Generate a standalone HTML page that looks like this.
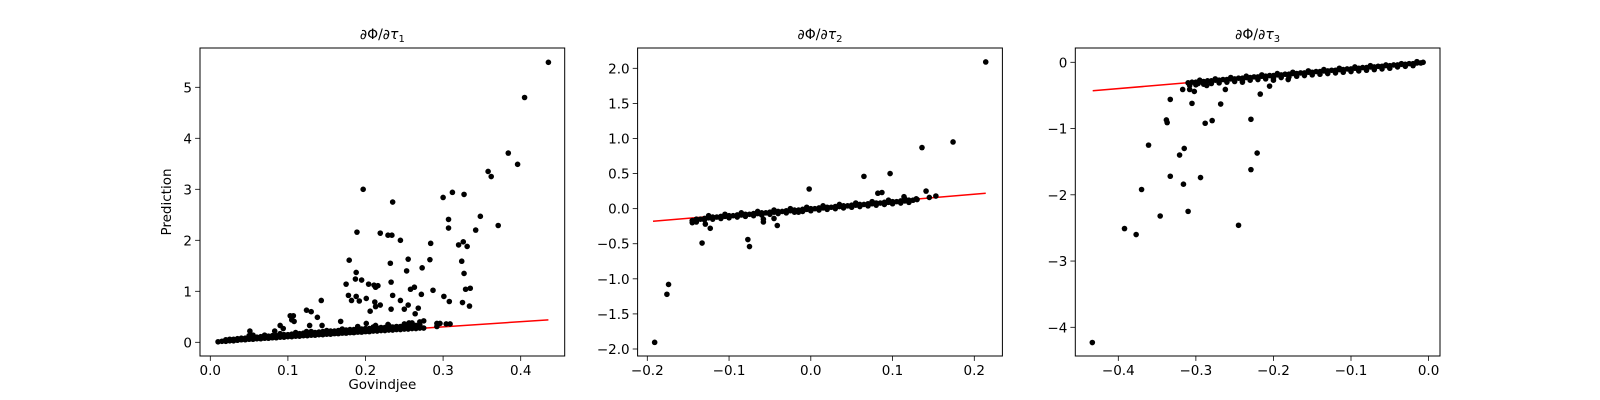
<!DOCTYPE html>
<html><head><meta charset="utf-8"><style>
html,body{margin:0;padding:0;background:#fff;}
svg{display:block;font-family:"DejaVu Sans","Liberation Sans",sans-serif;}
</style></head><body>
<svg id="fig" width="1600" height="400" viewBox="0 0 1600 400"></svg>
<script>
// ---------- Panel 1 data ----------
const p1BandX=[0.010,0.015,0.020,0.025,0.030,0.035,0.040,0.045,0.050,0.055,0.060,0.065,0.070,0.075,0.080,0.085,0.090,0.095,0.100,0.105,0.110,0.115,0.120,0.125,0.130,0.135,0.140,0.145,0.150,0.155,0.160,0.165,0.170,0.175,0.180,0.185,0.190,0.195,0.200,0.205,0.210,0.215,0.220,0.225,0.230,0.235,0.240,0.245,0.250,0.255,0.260,0.265,0.270,0.275];
const p1BandY=[0.01,0.02,0.02,0.03,0.03,0.04,0.05,0.05,0.06,0.06,0.07,0.07,0.08,0.08,0.09,0.09,0.10,0.10,0.11,0.11,0.12,0.12,0.13,0.13,0.14,0.14,0.15,0.15,0.16,0.16,0.17,0.17,0.18,0.18,0.19,0.19,0.20,0.20,0.21,0.21,0.22,0.22,0.23,0.23,0.24,0.24,0.25,0.25,0.26,0.26,0.27,0.27,0.28,0.28];
const p1Band2X=[0.020,0.025,0.030,0.035,0.040,0.045,0.050,0.055,0.060,0.065,0.070,0.075,0.080,0.085,0.090,0.095,0.100,0.105,0.110,0.115,0.120,0.125,0.130,0.135,0.140,0.145,0.150,0.155,0.160,0.165,0.170,0.175,0.180,0.185,0.190,0.195,0.200,0.205,0.210,0.215,0.220,0.225,0.230,0.235,0.240,0.245,0.250,0.255,0.260,0.265,0.270];
const p1Band2Y=[0.05,0.06,0.06,0.07,0.08,0.08,0.09,0.10,0.10,0.11,0.12,0.12,0.13,0.13,0.14,0.15,0.15,0.16,0.16,0.17,0.18,0.18,0.19,0.19,0.20,0.21,0.21,0.22,0.22,0.23,0.24,0.24,0.25,0.25,0.26,0.26,0.27,0.27,0.28,0.28,0.29,0.29,0.30,0.30,0.31,0.31,0.32,0.32,0.33,0.33,0.34];
const p1Band3X=[0.05,0.07,0.09,0.11,0.13,0.15,0.17,0.19,0.21,0.23,0.25,0.26,0.27];
const p1Band3Y=[0.13,0.14,0.17,0.19,0.21,0.23,0.26,0.28,0.30,0.33,0.36,0.38,0.40];
const p1OutX=[0.4357,0.405,0.384,0.396,0.358,0.362,0.371,0.348,0.342,0.300,0.312,0.327,0.307,0.307,0.320,0.326,0.331,0.324,0.327,0.329,0.335,0.325,0.334,0.301,0.308,0.284,0.283,0.287,0.273,0.272,0.268,0.264,0.275,0.197,0.235,0.189,0.219,0.229,0.234,0.245,0.179,0.232,0.255,0.253,0.188,0.187,0.195,0.175,0.204,0.211,0.216,0.213,0.233,0.258,0.263,0.178,0.188,0.182,0.192,0.201,0.235,0.245,0.212,0.219,0.213,0.206,0.233,0.255,0.250,0.168,0.201,0.190,0.213,0.229,0.256,0.143,0.124,0.130,0.138,0.103,0.107,0.105,0.108,0.128,0.144,0.090,0.094,0.083,0.051,0.292,0.296,0.292,0.304,0.309,0.124,0.055];
const p1OutY=[5.49,4.80,3.71,3.49,3.35,3.25,2.29,2.47,2.20,2.84,2.94,2.90,2.41,2.24,1.91,1.97,1.88,1.59,1.35,1.04,1.06,0.78,0.71,0.90,0.80,1.94,1.62,1.02,1.46,0.94,0.67,0.56,0.42,3.00,2.75,2.16,2.14,2.10,2.10,2.00,1.61,1.55,1.63,1.40,1.37,1.24,1.22,1.14,1.14,1.12,1.11,1.08,1.18,1.04,1.08,0.92,0.90,0.82,0.81,0.86,0.92,0.82,0.79,0.73,0.70,0.61,0.65,0.73,0.65,0.41,0.37,0.31,0.33,0.35,0.38,0.82,0.63,0.60,0.49,0.52,0.52,0.44,0.41,0.33,0.33,0.33,0.27,0.22,0.22,0.37,0.37,0.31,0.36,0.36,0.21,0.14];
const p1LineX=[0.01,0.4357];
const p1LineY=[0.01,0.44];
const p1XTicks=[0.0,0.1,0.2,0.3,0.4];
const p1XLabels=["0.0","0.1","0.2","0.3","0.4"];
const p1YTicks=[0,1,2,3,4,5];
const p1YLabels=["0","1","2","3","4","5"];

// ---------- Panel 2 data ----------
const p2BandX=[-0.145,-0.140,-0.135,-0.130,-0.125,-0.120,-0.115,-0.110,-0.105,-0.100,-0.095,-0.090,-0.085,-0.080,-0.075,-0.070,-0.065,-0.060,-0.055,-0.050,-0.045,-0.040,-0.035,-0.030,-0.025,-0.020,-0.015,-0.010,-0.005,0.000,0.005,0.010,0.015,0.020,0.025,0.030,0.035,0.040,0.045,0.050,0.055,0.060,0.065,0.070,0.075,0.080,0.085,0.090,0.095,0.100,0.105,0.110,0.115,0.120,0.125,0.130];
const p2BandY=[-0.17,-0.15,-0.15,-0.14,-0.13,-0.12,-0.12,-0.11,-0.11,-0.10,-0.10,-0.09,-0.09,-0.08,-0.08,-0.07,-0.07,-0.06,-0.06,-0.05,-0.05,-0.04,-0.04,-0.03,-0.03,-0.02,-0.02,-0.01,-0.01,0.00,0.00,0.01,0.01,0.02,0.02,0.03,0.03,0.04,0.04,0.05,0.05,0.06,0.06,0.07,0.07,0.08,0.08,0.09,0.09,0.10,0.10,0.11,0.11,0.12,0.12,0.13];
const p2Band2X=[-0.13,-0.12,-0.11,-0.10,-0.09,-0.08,-0.07,-0.06,-0.05,-0.04,-0.03,-0.02,-0.01,0.00,0.01,0.02,0.03,0.04,0.05,0.06,0.07,0.08,0.09,0.10,0.11,0.12];
const p2Band2Y=[-0.16,-0.15,-0.14,-0.13,-0.12,-0.11,-0.10,-0.09,-0.08,-0.07,-0.06,-0.05,-0.04,-0.03,-0.02,-0.01,0.00,0.01,0.02,0.03,0.04,0.05,0.06,0.07,0.08,0.09];
const p2Band3X=[-0.125,-0.105,-0.085,-0.065,-0.045,-0.025,-0.005,0.015,0.035,0.055,0.075,0.095,0.115];
const p2Band3Y=[-0.10,-0.08,-0.06,-0.04,-0.02,0.00,0.02,0.04,0.06,0.08,0.10,0.12,0.14];
const p2OutX=[-0.191,-0.176,-0.174,-0.133,-0.077,-0.075,-0.058,-0.058,-0.045,-0.041,-0.002,0.065,0.097,0.136,0.174,0.214,0.082,0.087,0.141,0.145,0.153,0.114,-0.123,-0.129,-0.145,-0.140,-0.015,0.129];
const p2OutY=[-1.905,-1.22,-1.08,-0.49,-0.44,-0.54,-0.15,-0.19,-0.14,-0.24,0.28,0.46,0.50,0.87,0.95,2.09,0.22,0.23,0.25,0.16,0.18,0.17,-0.28,-0.22,-0.20,-0.19,-0.05,0.14];
const p2LineX=[-0.193,0.214];
const p2LineY=[-0.18,0.22];
const p2XTicks=[-0.2,-0.1,0.0,0.1,0.2];
const p2XLabels=["\u22120.2","\u22120.1","0.0","0.1","0.2"];
const p2YTicks=[-2.0,-1.5,-1.0,-0.5,0.0,0.5,1.0,1.5,2.0];
const p2YLabels=["\u22122.0","\u22121.5","\u22121.0","\u22120.5","0.0","0.5","1.0","1.5","2.0"];

// ---------- Panel 3 data ----------
const p3BandX=[-0.310,-0.305,-0.300,-0.295,-0.290,-0.285,-0.280,-0.275,-0.270,-0.265,-0.260,-0.255,-0.250,-0.245,-0.240,-0.235,-0.230,-0.225,-0.220,-0.215,-0.210,-0.205,-0.200,-0.195,-0.190,-0.185,-0.180,-0.175,-0.170,-0.165,-0.160,-0.155,-0.150,-0.145,-0.140,-0.135,-0.130,-0.125,-0.120,-0.115,-0.110,-0.105,-0.100,-0.095,-0.090,-0.085,-0.080,-0.075,-0.070,-0.065,-0.060,-0.055,-0.050,-0.045,-0.040,-0.035,-0.030,-0.025,-0.020,-0.015,-0.010,-0.007];
const p3BandY=[-0.31,-0.30,-0.30,-0.29,-0.29,-0.28,-0.28,-0.27,-0.27,-0.26,-0.26,-0.25,-0.25,-0.24,-0.24,-0.23,-0.23,-0.22,-0.22,-0.21,-0.21,-0.20,-0.20,-0.19,-0.19,-0.18,-0.18,-0.17,-0.17,-0.16,-0.16,-0.15,-0.15,-0.14,-0.14,-0.13,-0.13,-0.12,-0.12,-0.11,-0.11,-0.10,-0.10,-0.09,-0.09,-0.08,-0.08,-0.07,-0.07,-0.06,-0.06,-0.05,-0.05,-0.04,-0.04,-0.03,-0.03,-0.02,-0.02,-0.01,-0.01,0.00];
const p3Band2X=[-0.30,-0.29,-0.28,-0.27,-0.26,-0.25,-0.24,-0.23,-0.22,-0.21,-0.20,-0.19,-0.18,-0.17,-0.16,-0.15,-0.14,-0.13,-0.12,-0.11,-0.10,-0.09,-0.08,-0.07,-0.06,-0.05,-0.04,-0.03,-0.02];
const p3Band2Y=[-0.34,-0.33,-0.32,-0.31,-0.30,-0.29,-0.28,-0.27,-0.26,-0.25,-0.24,-0.23,-0.22,-0.21,-0.20,-0.19,-0.18,-0.17,-0.16,-0.15,-0.14,-0.13,-0.12,-0.11,-0.10,-0.09,-0.07,-0.06,-0.05];
const p3Band3X=[-0.295,-0.275,-0.255,-0.235,-0.215,-0.195,-0.175,-0.155,-0.135,-0.115,-0.095,-0.075,-0.055,-0.035,-0.015];
const p3Band3Y=[-0.27,-0.25,-0.23,-0.21,-0.19,-0.17,-0.15,-0.13,-0.11,-0.09,-0.07,-0.05,-0.04,-0.02,0.01];
const p3OutX=[-0.4335,-0.392,-0.377,-0.370,-0.361,-0.346,-0.333,-0.338,-0.337,-0.333,-0.321,-0.315,-0.316,-0.310,-0.317,-0.308,-0.302,-0.305,-0.294,-0.288,-0.279,-0.268,-0.262,-0.245,-0.229,-0.229,-0.221,-0.217,-0.205,-0.308,-0.297,-0.286,-0.240,-0.200,-0.181];
const p3OutY=[-4.23,-2.51,-2.60,-1.92,-1.25,-2.32,-0.56,-0.87,-0.91,-1.72,-1.40,-1.30,-1.84,-2.25,-0.41,-0.41,-0.44,-0.62,-1.74,-0.92,-0.88,-0.63,-0.41,-2.46,-0.86,-1.62,-1.37,-0.48,-0.36,-0.35,-0.32,-0.35,-0.30,-0.27,-0.26];
const p3LineX=[-0.433,-0.01];
const p3LineY=[-0.43,-0.01];
const p3XTicks=[-0.4,-0.3,-0.2,-0.1,0.0];
const p3XLabels=["\u22120.4","\u22120.3","\u22120.2","\u22120.1","0.0"];
const p3YTicks=[-4,-3,-2,-1,0];
const p3YLabels=["\u22124","\u22123","\u22122","\u22121","0"];

const NS="http://www.w3.org/2000/svg";
const svgEl=document.getElementById('fig');
function mk(tag,attrs,parent){const e=document.createElementNS(NS,tag);for(const k in attrs)e.setAttribute(k,attrs[k]);(parent||svgEl).appendChild(e);return e;}
function linScale(d0,d1,r0,r1){return v=>r0+(v-d0)*(r1-r0)/(d1-d0);}

const axTop=48,axBottom=356;
const panels=[
 {left:200,right:564.7,xs:linScale(0,0.4,210.3,520.7),ys:linScale(0,5,342.3,87.3),
  bands:[[p1BandX,p1BandY],[p1Band2X,p1Band2Y],[p1Band3X,p1Band3Y]],outX:p1OutX,outY:p1OutY,lx:p1LineX,ly:p1LineY,
  xt:p1XTicks,xl:p1XLabels,yt:p1YTicks,yl:p1YLabels,sub:'1'},
 {left:637.6,right:1002.4,xs:linScale(-0.2,0.2,647.3,974.3),ys:linScale(-2,2,349,68.3),
  bands:[[p2BandX,p2BandY],[p2Band2X,p2Band2Y],[p2Band3X,p2Band3Y]],outX:p2OutX,outY:p2OutY,lx:p2LineX,ly:p2LineY,
  xt:p2XTicks,xl:p2XLabels,yt:p2YTicks,yl:p2YLabels,sub:'2'},
 {left:1075.3,right:1440,xs:linScale(-0.4,-0.1,1118.3,1351),ys:linScale(-4,0,327.3,62.3),
  bands:[[p3BandX,p3BandY],[p3Band2X,p3Band2Y],[p3Band3X,p3Band3Y]],outX:p3OutX,outY:p3OutY,lx:p3LineX,ly:p3LineY,
  xt:p3XTicks,xl:p3XLabels,yt:p3YTicks,yl:p3YLabels,sub:'3'}
];

panels.forEach((p,pi)=>{
  const g=mk('g',{});
  
  
  const ln=mk('line',{x1:p.xs(p.lx[0]),y1:p.ys(p.ly[0]),x2:p.xs(p.lx[1]),y2:p.ys(p.ly[1]),stroke:'#ff0000','stroke-width':1.5},g);
  
  
  const pts=mk('g',{fill:'#000'},g);
  
  
  p.bands.forEach(b=>{
    b[0].forEach((x,i)=>{
      const c=mk('circle',{cx:p.xs(x),cy:p.ys(b[1][i]),r:2.8},pts);
      
      
    });
  });
  p.outX.forEach((x,i)=>{
    const c=mk('circle',{cx:p.xs(x),cy:p.ys(p.outY[i]),r:2.8},pts);
    
    
  });
  const fr=mk('rect',{x:p.left,y:axTop,width:p.right-p.left,height:axBottom-axTop,fill:'none',stroke:'#000','stroke-width':1},g);
  
  
  const xa=mk('g',{},g);
  
  
  p.xt.forEach((v,i)=>{
    const x=p.xs(v);
    mk('line',{x1:x,y1:axBottom,x2:x,y2:axBottom+4.9,stroke:'#000','stroke-width':0.8},xa);
    const t=mk('text',{x:x,y:axBottom+19,'text-anchor':'middle','font-size':'13.5px',fill:'#000'},xa);
    t.textContent=p.xl[i];
    
    
  });
  const ya=mk('g',{},g);
  
  
  p.yt.forEach((v,i)=>{
    const y=p.ys(v);
    mk('line',{x1:p.left-4.9,y1:y,x2:p.left,y2:y,stroke:'#000','stroke-width':0.8},ya);
    const t=mk('text',{x:p.left-8,y:y+5,'text-anchor':'end','font-size':'13.5px',fill:'#000'},ya);
    t.textContent=p.yl[i];
    
    
  });
  const tt=mk('text',{x:(p.left+p.right)/2,y:39,'text-anchor':'middle','font-size':'14px',fill:'#000'},g);
  
  
  tt.appendChild(document.createTextNode('\u2202\u03A6/\u2202'));
  const tau=mk('tspan',{'font-style':'italic'},tt); tau.textContent='\u03C4';
  const sb=mk('tspan',{'font-size':'10px',dy:'3'},tt); sb.textContent=p.sub;
});

const xlab=mk('text',{x:382.3,y:389,'text-anchor':'middle','font-size':'13.5px',fill:'#000'});
xlab.textContent='Govindjee';


const ylab=mk('text',{x:0,y:0,'text-anchor':'middle','font-size':'13.5px',fill:'#000',transform:'translate(171,202) rotate(-90)'});
ylab.textContent='Prediction';


</script>
</body></html>
